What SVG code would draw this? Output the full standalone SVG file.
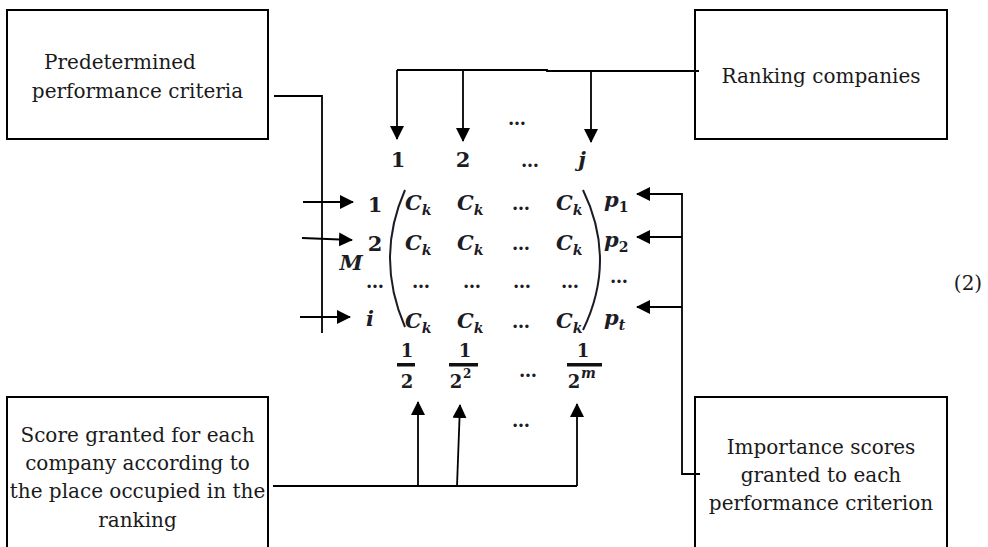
<svg xmlns="http://www.w3.org/2000/svg" width="988" height="547" viewBox="0 0 988 547">
<style>
.box{fill:#fff;stroke:#000;stroke-width:2}
.lbl{font-family:"DejaVu Serif","Liberation Serif",serif;font-size:20px;fill:#1a1a1a;text-anchor:middle}
.con{fill:none;stroke:#000;stroke-width:1.8}
.m{font-family:"DejaVu Serif","Liberation Serif",serif;fill:#1c1c24}
.b{font-weight:bold;font-size:21px;text-anchor:middle}
.c{font-style:italic;font-weight:bold;font-size:21px}
.s{font-size:14px}
.d{font-weight:bold;font-size:18px;text-anchor:middle}
.dot{font-weight:bold;font-size:18px;text-anchor:middle}
.bar{fill:#111}
.par{fill:none;stroke:#1c1c24;stroke-width:2}
</style>
<defs>
<marker id="ah" viewBox="0 0 14 14" refX="13" refY="7" markerWidth="14" markerHeight="14" orient="auto" markerUnits="userSpaceOnUse">
<path d="M0,0 L14,7 L0,14 z" fill="#000"/>
</marker>
</defs>

<g id="box-criteria">
<rect class="box" x="7" y="10" width="261" height="129"/>
<text class="lbl" x="120" y="69">Predetermined</text>
<text class="lbl" x="137.5" y="98">performance criteria</text>
</g>

<g id="box-ranking">
<rect class="box" x="695" y="10" width="252" height="129"/>
<text class="lbl" x="821" y="83">Ranking companies</text>
</g>

<g id="box-score">
<rect class="box" x="7" y="397" width="261" height="170"/>
<text class="lbl" x="137.5" y="442">Score granted for each</text>
<text class="lbl" x="137.5" y="470">company according to</text>
<text class="lbl" x="137.5" y="498">the place occupied in the</text>
<text class="lbl" x="137.5" y="527">ranking</text>
</g>

<g id="box-importance">
<rect class="box" x="695" y="397" width="252" height="170"/>
<text class="lbl" x="821" y="454">Importance scores</text>
<text class="lbl" x="821" y="482">granted to each</text>
<text class="lbl" x="821" y="510">performance criterion</text>
</g>

<g id="equation-number">
<text class="lbl" x="968" y="290">(2)</text>
</g>

<g id="matrix" class="m">
<!-- column headers -->
<text class="b" x="398" y="167">1</text>
<text class="b" x="463" y="167">2</text>
<text class="dot" x="530" y="167">…</text>
<text class="b" x="582" y="167" font-style="italic">j</text>
<text class="dot" x="517" y="125" font-size="14px">…</text>
<!-- row labels -->
<text class="b" x="375" y="212">1</text>
<text class="b" x="375" y="251">2</text>
<text class="b" x="351" y="270" font-style="italic">M</text>
<text class="dot" x="375" y="288">…</text>
<text class="b" x="370" y="326" font-style="italic">i</text>
<!-- parentheses -->
<path class="par" d="M405,190 Q375,258 405,327"/>
<path class="par" d="M583,190 Q617,260 583,330"/>
<!-- row 1 -->
<text class="c" x="405" y="210">C<tspan class="s" dy="5">k</tspan></text>
<text class="c" x="457" y="210">C<tspan class="s" dy="5">k</tspan></text>
<text class="dot" x="521" y="210">…</text>
<text class="c" x="556" y="210">C<tspan class="s" dy="5">k</tspan></text>
<text class="c" x="604" y="207">p<tspan class="s" dy="5" font-style="normal">1</tspan></text>
<!-- row 2 -->
<text class="c" x="405" y="250">C<tspan class="s" dy="5">k</tspan></text>
<text class="c" x="457" y="250">C<tspan class="s" dy="5">k</tspan></text>
<text class="dot" x="521" y="250">…</text>
<text class="c" x="556" y="250">C<tspan class="s" dy="5">k</tspan></text>
<text class="c" x="604" y="247">p<tspan class="s" dy="5" font-style="normal">2</tspan></text>
<!-- row 3 -->
<text class="dot" x="421" y="288">…</text>
<text class="dot" x="472" y="288">…</text>
<text class="dot" x="522" y="288">…</text>
<text class="dot" x="570" y="288">…</text>
<text class="dot" x="619" y="283">…</text>
<!-- row 4 -->
<text class="c" x="405" y="328">C<tspan class="s" dy="5">k</tspan></text>
<text class="c" x="457" y="328">C<tspan class="s" dy="5">k</tspan></text>
<text class="dot" x="521" y="328">…</text>
<text class="c" x="556" y="328">C<tspan class="s" dy="5">k</tspan></text>
<text class="c" x="604" y="325">p<tspan class="s" dy="5">t</tspan></text>
<!-- fractions -->
<text class="d" x="407" y="357">1</text>
<rect class="bar" x="397" y="363" width="18" height="3.5"/>
<text class="d" x="407" y="388">2</text>
<text class="d" x="465" y="357">1</text>
<rect class="bar" x="449" y="363" width="29" height="3.5"/>
<text class="d" x="456" y="388">2</text>
<text class="m" x="463" y="378" font-size="12px" font-weight="bold">2</text>
<text class="dot" x="528" y="377">…</text>
<text class="d" x="583" y="357">1</text>
<rect class="bar" x="567" y="363" width="35" height="3.5"/>
<text class="d" x="574" y="388">2</text>
<text class="m" x="581" y="378" font-size="14px" font-style="italic" font-weight="bold">m</text>
<text class="dot" x="521" y="427" font-size="14px">…</text>
</g>

<g id="connectors">
<!-- ranking companies to column headers -->
<path class="con" d="M699,71 H547 V70 H397"/>
<path class="con" d="M397,70 V139" marker-end="url(#ah)"/>
<path class="con" d="M463,70 V141" marker-end="url(#ah)"/>
<path class="con" d="M591,71 V142" marker-end="url(#ah)"/>
<!-- performance criteria to rows -->
<path class="con" d="M274,96 H322 V333"/>
<path class="con" d="M303,202 H353" marker-end="url(#ah)"/>
<path class="con" d="M302,238 L352,240" marker-end="url(#ah)"/>
<path class="con" d="M300,317 H350" marker-end="url(#ah)"/>
<!-- importance scores to p column -->
<path class="con" d="M700,474 H682 V193"/>
<path class="con" d="M682,194 H637" marker-end="url(#ah)"/>
<path class="con" d="M682,237 H637" marker-end="url(#ah)"/>
<path class="con" d="M682,307 H637" marker-end="url(#ah)"/>
<!-- score to fractions -->
<path class="con" d="M273,486 H577"/>
<path class="con" d="M418,486 V402" marker-end="url(#ah)"/>
<path class="con" d="M457,486 L460,405" marker-end="url(#ah)"/>
<path class="con" d="M577,486 V404" marker-end="url(#ah)"/>
</g>
</svg>
